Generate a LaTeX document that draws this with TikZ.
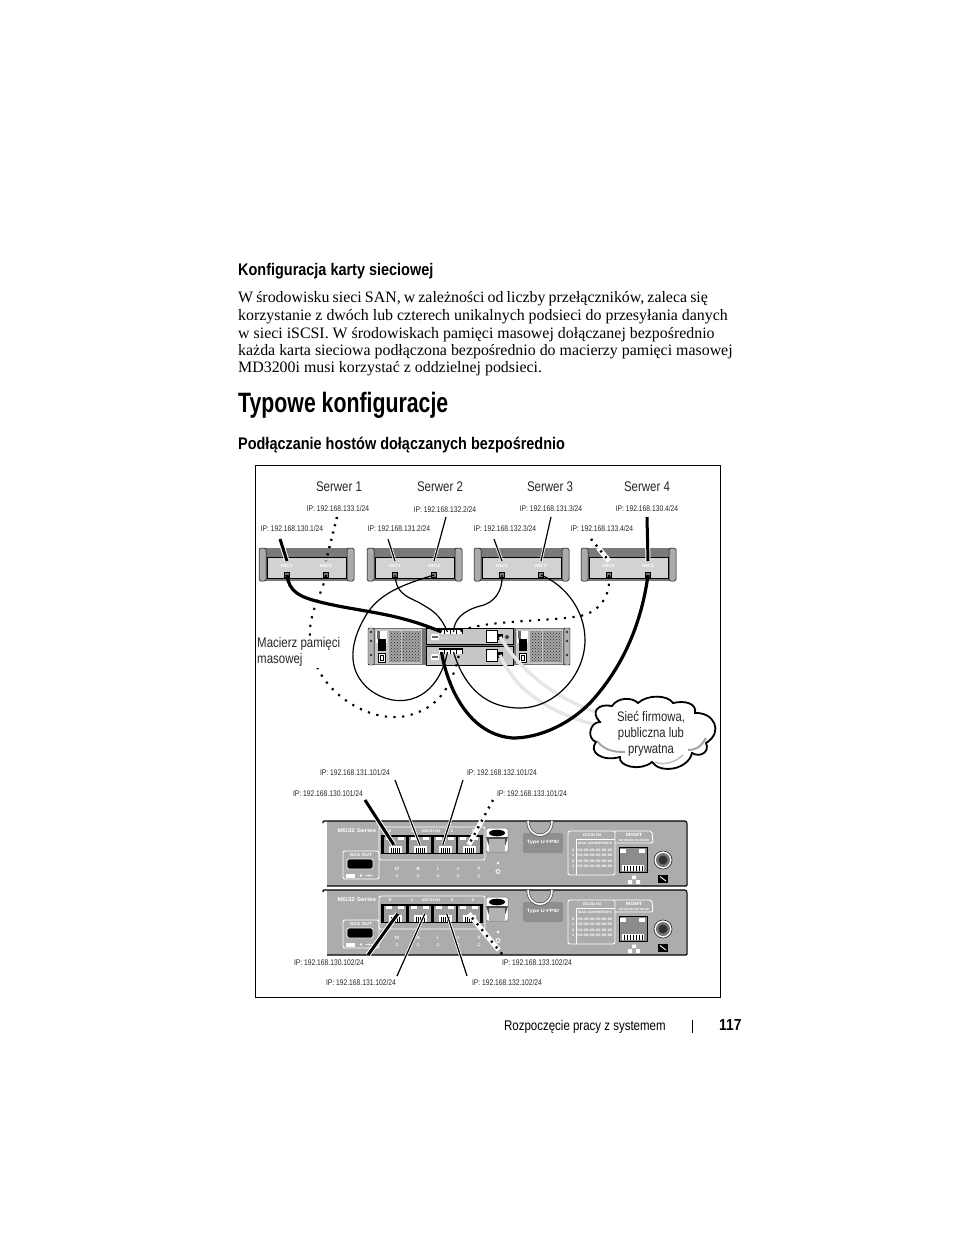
\documentclass[tikz,border=0pt]{standalone}
\usepackage{fontspec}
\usetikzlibrary{patterns,calc}
\setmainfont{Liberation Serif}
\newfontfamily\narf[FakeStretch=0.82]{Liberation Sans}
\newfontfamily\headf[FakeStretch=0.86]{Liberation Sans}
\newfontfamily\titlef[FakeStretch=0.76]{Liberation Sans}
\newfontfamily\widef[FakeStretch=1.2]{Liberation Sans}
\definecolor{srvdark}{HTML}{7A7A7A}
\definecolor{srvlight}{HTML}{D2D2D2}
\definecolor{earcol}{HTML}{ABABAB}
\definecolor{panelcol}{HTML}{ACACAC}
\definecolor{boxcol}{HTML}{8E8E8E}
\definecolor{mgmtcable}{HTML}{E6E6E6}
\tikzset{
  iplabel/.style={font=\narf\fontsize{8.2}{9}\selectfont,inner sep=0pt,text=black!85},
  srvlabel/.style={font=\narf\fontsize{14}{15}\selectfont,inner sep=0pt,text=black!85},
  body/.style={anchor=base west,inner sep=0pt,font=\fontsize{15.9}{18}\selectfont},
  heading/.style={anchor=base west,inner sep=0pt,font=\headf\bfseries\fontsize{16.8}{18}\selectfont},
  tiny/.style={inner sep=0pt,text=white,font=\widef\bfseries\fontsize{#1}{#1}\selectfont},
  tiny/.default=4,
  nicport/.style={draw=black,fill=srvdark,line width=1pt,minimum width=5.5pt,minimum height=5.5pt,inner sep=0pt},
  ckthick/.style={line width=3pt,black,preaction={draw=white,line width=5pt}},
  ckthin/.style={line width=1.2pt,black,preaction={draw=white,line width=2.8pt}},
  ckdots/.style={line width=2.4pt,black,dash pattern=on 2pt off 5.5pt},
  cbthick/.style={line width=3.2pt,black},
  cbthin/.style={line width=1.2pt,black},
  cbdots/.style={line width=2.1pt,black,dash pattern=on 2.2pt off 6.5pt},
  cbmgmt/.style={line width=3.4pt,mgmtcable},
  arrport/.style={fill=white,inner sep=0pt,minimum width=4.6pt,minimum height=4pt},
  panelport/.style={draw=black,fill=black!38,line width=.6pt,minimum width=23pt,minimum height=17pt,inner sep=0pt},
}
% server box: #1 name prefix, #2 left x
\newcommand{\srvbox}[2]{%
  \begin{scope}[shift={(#2,0)}]
    \fill[srvdark] (3,548) rectangle (92,581);
    \draw[line width=.5pt,fill=earcol,rounded corners=1.5pt] (0,548) rectangle (7,581);
    \draw[line width=.5pt,fill=earcol,rounded corners=1.5pt] (88,548) rectangle (95,581);
    \draw[line width=.9pt,fill=srvlight] (8.5,557) rectangle (87,578);
    \node[nicport] (#1n1) at (28,575) {};
    \node[nicport] (#1n2) at (67,575) {};
    \node[tiny=4.3] at (28,566) {NIC1};
    \node[tiny=4.3] at (67,566) {NIC2};
    \coordinate (#1a) at (28,561);
    \coordinate (#1b) at (67,561);
  \end{scope}}
% controller panel: #1 prefix, #2 top y
\newcommand{\rjport}[3]{% name, x, y
  \node[panelport,anchor=north west] (#1) at (#2,#3) {};
  \fill[white] ($(#1.north west)+(3,1.2)$) rectangle +(6,2.6);
  \fill[white] ($(#1.north east)+(-9,1.2)$) rectangle +(6,2.6);
  \fill[white] ($(#1.south west)+(6,-1)$) rectangle +(13,-7);
  \foreach \q in {8,10,12,14,16}{\draw[black,line width=.6pt] ($(#1.south west)+(\q,-1)$) -- +(0,-5);}
}
\newcommand{\ctrlpanel}[2]{%
 \begin{scope}[shift={(0,#2)}]
  \fill[panelcol] (327,0) rectangle (686,65);
  \draw[line width=1.1pt,rounded corners=1pt] (323,2) -- (323,0) -- (686,0) -- (687,2) -- (687,65) -- (327,65);
  \node[tiny=5.4] at (357,10) {MD32 Series};
  \draw[white,line width=.9pt,rounded corners=2pt] (379,6) rectangle (485,39);
  \node[tiny=3.9] at (431,10) {iSCSI IN};
  \node[tiny=4] at (390,10) {0};
  \node[tiny=4] at (412,10) {1};
  \node[tiny=4] at (452,10) {2};
  \node[tiny=4] at (473,10) {3};
  \fill[black] (381,14) rectangle (483,33);
  \rjport{#1p0}{383}{15}
  \rjport{#1p1}{408}{15}
  \rjport{#1p2}{433}{15}
  \rjport{#1p3}{457}{15}
  % SAS
  \draw[white,line width=.9pt,rounded corners=2pt] (343,30) rectangle (379,58);
  \node[tiny=4.2] at (361,34) {SAS OUT};
  \draw[white,line width=.8pt,fill=black,rounded corners=1.5pt] (347,38) rectangle (373,48);
  \fill[white] (346,53) rectangle (355,56.5);
  \draw[white,line width=.5pt] (361,54.5) circle (1) (365,54.5) -- (373,54.5) (369,52.5) -- (369,56.5);
  % indicators
  \foreach \xx/\ss in {397/O,418/A,438/i,458/>,479/T}{
    \node[tiny=4.6] at (\xx,48) {\ss};
    \fill[white] (\xx,54.5) circle (1.5);
    \fill[black!60] (\xx,54.5) circle (.7);
  }
  \fill[white] (498,42) circle (1.4);
  \draw[white,line width=.8pt] (498,50.5) circle (2);
  % handle
  \draw[line width=.5pt,black!60,fill=white,rounded corners=1.5pt] (486,7) rectangle (508,31);
  \fill[black!70] (486,16) -- (508,16) -- (505,25) -- (489,25) -- cycle;
  \fill[black!30] (489,18) rectangle (505,31);
  \fill[black] (497,12) ellipse (8 and 3.3);
  % U handle
  \fill[boxcol,rounded corners=2pt] (523,12) rectangle (563,32);
  \node[tiny=4.6] at (543,21) {Type U FPID};
  \draw[black!70,line width=3pt] (528,0) .. controls (528,19) and (552,19) .. (552,0);
  \draw[white,line width=1.6pt] (528,0) .. controls (528,19) and (552,19) .. (552,0);
  % table
  \draw[white,line width=.9pt,rounded corners=2pt] (568,10) rectangle (615,54);
  \node[tiny=3.9] at (592,14) {iSCSI IN};
  \draw[white,line width=.6pt] (576,18) -- (615,18);
  \draw[white,line width=.6pt] (576,18) -- (576,54);
  \node[tiny=3.2] at (595,22) {MAC ADDRESSES};
  \foreach \rr/\yy in {0/29.5,1/34.5,2/40,3/45.5}{
    \node[tiny=3.4] at (573,\yy) {\rr};
    \node[tiny=3.5] at (595,\yy) {00:00:00:00:00:00};
  }
  \draw[white,line width=.9pt,rounded corners=2pt] (615,10) -- (652,10) -- (653,22) -- (615,22);
  \node[tiny=4.5] at (634,14) {MGMT};
  \node[tiny=3] at (634,19) {00:00:00:00:00:00};
  % big rj45
  \node[draw=black,fill=black!45,line width=1pt,minimum width=28pt,minimum height=25pt,inner sep=0pt,anchor=north west] (#1mg) at (618.5,26) {};
  \fill[white] (620,28) rectangle (626,32);
  \fill[white] (639,28) rectangle (645,32);
  \fill[white] (622,44) rectangle (644,50);
  \foreach \q in {624,627,630,633,636,639,642}{\draw[black,line width=.7pt] (\q,44.5) -- (\q,49.5);}
  % network icon
  \fill[white] (632,54.5) rectangle (636,58) (628,59) rectangle (632,63) (636,59) rectangle (640,63);
  % round connector
  \draw[black!80,fill=white,line width=.7pt] (663,39) circle (9);
  \fill[black!55] (663,39) circle (7);
  \fill[black!80] (663,39) circle (4.5);
  \fill[black] (658,53.5) rectangle (668,62);
  \draw[white,line width=.9pt] (660,55.5) -- (666,60);
 \end{scope}}
\begin{document}
\begin{tikzpicture}[x=1pt,y=-1pt,line cap=butt]
\useasboundingbox (0,0) rectangle (954,1235);
\fill[white] (0,0) rectangle (954,1235);
% page text
\node[heading] (h1) at (238,275) {Konfiguracja karty sieciowej};
\node[body] (l1) at (238,302) {\spaceskip=3.1pt W środowisku sieci SAN, w zależności od liczby przełączników, zaleca się};
\node[body] (l2) at (238,320) {korzystanie z dwóch lub czterech unikalnych podsieci do przesyłania danych};
\node[body] (l3) at (238,338) {w sieci iSCSI. W środowiskach pamięci masowej dołączanej bezpośrednio};
\node[body] (l4) at (238,355) {każda karta sieciowa podłączona bezpośrednio do macierzy pamięci masowej};
\node[body] (l5) at (238,372) {MD3200i musi korzystać z oddzielnej podsieci.};
\node[anchor=base west,inner sep=0pt,font=\titlef\bfseries\fontsize{28}{30}\selectfont] (h0) at (238,412) {Typowe konfiguracje};
\node[heading] (h2) at (238,449) {Podłączanie hostów dołączanych bezpośrednio};
\draw[line width=.7pt] (255,465) rectangle (720.5,997.5);
% footer
\node[anchor=base west,inner sep=0pt,font=\narf\fontsize{14}{15}\selectfont] (f1) at (504,1030) {Rozpoczęcie pracy z systemem};
\draw[line width=.6pt] (692.5,1020) -- (692.5,1033);
\node[anchor=base west,inner sep=0pt,font=\headf\bfseries\fontsize{16}{18}\selectfont] (f2) at (719,1030) {117};
% servers
\node[srvlabel] (t1) at (339,487) {Serwer 1};
\node[srvlabel] (t2) at (440,487) {Serwer 2};
\node[srvlabel] (t3) at (550,487) {Serwer 3};
\node[srvlabel] (t4) at (647,487) {Serwer 4};
\srvbox{s1}{259}
\srvbox{s2}{367}
\srvbox{s3}{474}
\srvbox{s4}{581}
% IP labels upper
\node[iplabel] (i11) at (292,529) {IP: 192.168.130.1/24};
\node[iplabel] (i12) at (338,509) {IP: 192.168.133.1/24};
\node[iplabel] (i21) at (399,529) {IP: 192.168.131.2/24};
\node[iplabel] (i22) at (445,510) {IP: 192.168.132.2/24};
\node[iplabel] (i31) at (505,529) {IP: 192.168.132.3/24};
\node[iplabel] (i32) at (551,509) {IP: 192.168.131.3/24};
\node[iplabel] (i41) at (602,529) {IP: 192.168.133.4/24};
\node[iplabel] (i42) at (647,509) {IP: 192.168.130.4/24};
\coordinate (c11) at (280,539);
\coordinate (c12) at (337,517);
\coordinate (c21) at (388,539);
\coordinate (c22) at (446,517);
\coordinate (c31) at (494,539);
\coordinate (c32) at (551,517);
\coordinate (c41) at (591,539);
\coordinate (c42) at (647,517);
\draw[ckthick] (c11) -- (s1a);
\draw[ckdots] (c12) -- (s1b);
\draw[ckthin] (c21) -- (s2a);
\draw[ckthin] (c22) -- (s2b);
\draw[ckthin] (c31) -- (s3a);
\draw[ckthin] (c32) -- (s3b);
\draw[white,line width=5pt] ($(c41)!.4!(s4a)$) -- (s4a);
\draw[ckdots] (c41) -- (s4a);
\draw[ckthick] (c42) -- (s4b);
% storage array
\fill[black!55] (368,628) rectangle (570,665);
\draw[line width=.4pt,fill=black!30,rounded corners=1pt] (368,628) rectangle (374,665);
\draw[line width=.4pt,fill=black!30,rounded corners=1pt] (564,628) rectangle (570,665);
\foreach \ey in {632,641,655}{\fill[black!80] (371,\ey) circle (1.4); \fill[black!80] (567,\ey) circle (1.4);}
% power units
\foreach \xa in {375,516}{
  \fill[black!22] (\xa,629) rectangle ++(47,35);
  \fill[black!35] (\xa+14,631) rectangle ++(12,31);
  \fill[black!35] (\xa+27,631) rectangle ++(19,31);
  \fill[pattern=crosshatch dots,pattern color=black!85] (\xa+14,631) rectangle ++(12,31);
  \fill[pattern=crosshatch dots,pattern color=black!85] (\xa+27,631) rectangle ++(19,31);
  \fill[white] (\xa+1,631) rectangle ++(11,12);
  \fill[black] (\xa+3,639) rectangle ++(8,12);
  \fill[black!60] (\xa+2,631) rectangle ++(3,8);
  \draw[line width=.8pt,fill=white] (\xa+3,653) rectangle ++(7,9);
  \draw[line width=.4pt] (\xa+5,655) rectangle ++(3,5);
}
% controllers
\draw[line width=.8pt,fill=black!22] (426,628) rectangle (513,644);
\draw[line width=.8pt,fill=black!22] (426,646) rectangle (513,665);
\fill[black] (439,628) rectangle (463,634);
\fill[black] (439,648) rectangle (463,654);
\foreach \ctop in {637,657}{
  \fill[white,rounded corners=1pt] (431,\ctop-3) rectangle ++(8,6);
  \fill[black!60] (432,\ctop-1) rectangle ++(6,2);
}
\foreach \cy in {635,655}{\foreach \qq in {442,447,452,457}{\fill[white] (\qq,\cy+3) circle (.6);}}
\foreach \cy in {630,649}{
  \draw[line width=.4pt,fill=white] (486,\cy) rectangle ++(11,12);
}
\node[arrport] (a0) at (441.5,632) {};
\node[arrport] (a1) at (447.5,632) {};
\node[arrport] (a2) at (453.5,632) {};
\node[arrport] (a3) at (459.5,632) {};
\node[arrport] (b0) at (441.5,652) {};
\node[arrport] (b1) at (447.5,652) {};
\node[arrport] (b2) at (453.5,652) {};
\node[arrport] (b3) at (459.5,652) {};
\node[fill=black,inner sep=0pt,minimum width=6pt,minimum height=6pt] (am) at (500,637) {};
\node[fill=black,inner sep=0pt,minimum width=6pt,minimum height=6pt] (bm) at (500,655) {};
\fill[black!75] (507,637) circle (2);
% management cables
\draw[cbmgmt] (am.center) .. controls (520,670) and (555,700) .. (605,715);
\draw[cbmgmt] (bm.center) .. controls (515,690) and (550,715) .. (605,727);
% data cables
\draw[cbthick] (s1n1.center) .. controls (289,592) and (300,597) .. (320,602)
   .. controls (360,612) and (395,612) .. (a0.center);
\draw[cbdots] (s1n2.center) .. controls (322,595) and (308,612) .. (310,640)
   .. controls (312,685) and (360,720) .. (400,717)
   .. controls (435,712) and (452,690) .. (b3.center);
\draw[cbthin] (s2n1.center) .. controls (396,592) and (405,596) .. (418,602)
   .. controls (432,610) and (440,614) .. (a1.center);
\draw[cbthin] (s2n2.center) .. controls (405,584) and (382,592) .. (368,612)
   .. controls (350,640) and (345,670) .. (370,690)
   .. controls (400,712) and (438,700) .. (b1.center);
\draw[cbthin] (s3n1.center) .. controls (503,590) and (495,603) .. (480,606)
   .. controls (462,611) and (454,620) .. (a2.center);
\draw[cbthin] (s3n2.center) .. controls (565,585) and (585,610) .. (585,640)
   .. controls (585,675) and (555,708) .. (520,708)
   .. controls (480,708) and (462,680) .. (b2.center);
\draw[cbdots] (s4n1.center) .. controls (611,595) and (600,612) .. (580,616)
   .. controls (545,622) and (480,620) .. (a3.center);
\draw[cbthick] (s4n2.center) .. controls (642,620) and (625,665) .. (590,703)
   .. controls (565,728) and (535,738) .. (513,738)
   .. controls (470,735) and (448,690) .. (b0.center);
% cloud
\path[fill=white] (600,722) .. controls (590,712) and (598,703) .. (612,706)
  .. controls (618,697) and (632,697) .. (638,703)
  .. controls (648,694) and (668,695) .. (673,703)
  .. controls (686,700) and (697,704) .. (695,713)
  .. controls (714,712) and (724,732) .. (706,743)
  .. controls (710,752) and (700,758) .. (692,753)
  .. controls (688,770) and (660,774) .. (652,762)
  .. controls (640,772) and (618,766) .. (620,757)
  .. controls (602,762) and (588,752) .. (596,742)
  .. controls (586,738) and (590,722) .. (600,722) -- cycle;
\draw[black!35,line width=2pt] (597,741) .. controls (605,751) and (615,752) .. (625,752);
\draw[black!35,line width=2pt] (706,738) .. controls (700,748) and (695,750) .. (688,750);
\draw[black!25,line width=1.5pt] (655,762) .. controls (665,766) and (675,762) .. (683,755);
\draw[line width=1.8pt] (600,722) .. controls (590,712) and (598,703) .. (612,706)
  .. controls (618,697) and (632,697) .. (638,703)
  .. controls (648,694) and (668,695) .. (673,703)
  .. controls (686,700) and (697,704) .. (695,713)
  .. controls (714,712) and (724,732) .. (706,743)
  .. controls (710,752) and (700,758) .. (692,753)
  .. controls (688,770) and (660,774) .. (652,762)
  .. controls (640,772) and (618,766) .. (620,757)
  .. controls (602,762) and (588,752) .. (596,742)
  .. controls (586,738) and (590,722) .. (600,722) -- cycle;
\node[srvlabel,align=center,font=\narf\fontsize{13.8}{16}\selectfont] (cloudt) at (651,733.5) {Sieć firmowa,\\publiczna lub\\prywatna};
\node[srvlabel,align=left,anchor=north west,fill=white,inner sep=1pt,font=\narf\fontsize{14}{16.5}\selectfont] (mac) at (256,636) {Macierz pamięci\\masowej};
% panels
\ctrlpanel{t}{821}
\ctrlpanel{u}{890}
% labels lower
\node[iplabel] (j1) at (355,773) {IP: 192.168.131.101/24};
\node[iplabel] (j2) at (502,773) {IP: 192.168.132.101/24};
\node[iplabel] (j0) at (328,794) {IP: 192.168.130.101/24};
\node[iplabel] (j3) at (532,794) {IP: 192.168.133.101/24};
\node[iplabel] (k0) at (329,963) {IP: 192.168.130.102/24};
\node[iplabel] (k3) at (537,963) {IP: 192.168.133.102/24};
\node[iplabel] (k1) at (361,983) {IP: 192.168.131.102/24};
\node[iplabel] (k2) at (507,983) {IP: 192.168.132.102/24};
\coordinate (d0) at (365,800);
\coordinate (d1) at (395,780);
\coordinate (d2) at (463,780);
\coordinate (d3) at (493,800);
\coordinate (e0) at (368,955);
\coordinate (e1) at (397,976);
\coordinate (e2) at (467,976);
\coordinate (e3) at (502,954);
\draw[ckthick] (d0) -- ($(tp0.center)+(-1,0)$);
\draw[ckthin] (d1) -- (tp1.center);
\draw[ckthin] (d2) -- ($(tp2.center)+(-2,0)$);
\draw[white,line width=5pt] ($(d3)!0.3!(tp3.center)$) -- (tp3.center);
\draw[ckdots] (d3) -- (tp3.center);
\draw[ckthick] (e0) -- ($(up0.center)+(3,0)$);
\draw[ckthin] (e1) -- ($(up1.center)+(5,0)$);
\draw[ckthin] (e2) -- ($(up2.center)+(2,0)$);
\draw[white,line width=5pt] ($(e3)!0.1!(up3.center)$) -- (up3.center);
\draw[ckdots] (e3) -- (up3.center);
\end{tikzpicture}
\end{document}
